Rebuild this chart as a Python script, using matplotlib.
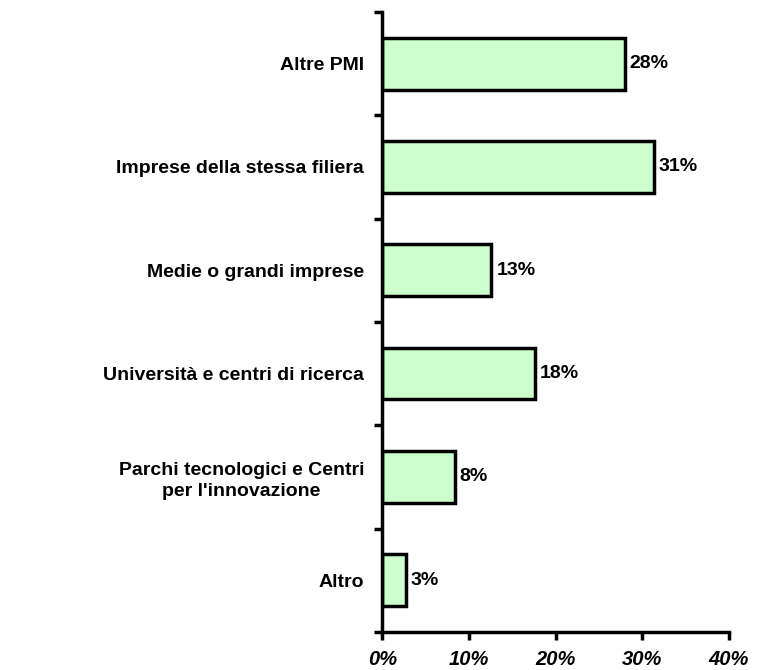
import matplotlib.pyplot as plt
from matplotlib.ticker import FuncFormatter

plt.rcParams['font.family'] = ['Liberation Sans', 'DejaVu Sans']

# data (top to bottom as in the chart)
categories = ["Altre PMI", "Imprese della stessa filiera", "Medie o grandi imprese",
              "Università e centri di ricerca",
              "Parchi tecnologici e Centri\nper l'innovazione", "Altro"]
values = [28.0, 31.3, 12.6, 17.6, 8.4, 2.7]
xticks = [0, 10, 20, 30, 40]

fig = plt.figure(figsize=(7.57, 6.70), dpi=100)
ax = fig.add_axes([0.505, 0.057, 0.458, 0.925])

n = len(categories)
pos = [n - 1 - i for i in range(n)]
ax.barh(pos, values, height=0.5, color='#ccffcc', edgecolor='black', linewidth=2.5)

for p, v in zip(pos, values):
    ax.text(v + 0.55, p, f"{v:.0f}%", va='center', ha='left',
            fontsize=14, fontweight='bold')

ax.set_xlim(0, 40)
ax.set_ylim(-0.5, n - 0.5)
ax.set_xticks(xticks)
ax.xaxis.set_major_formatter(FuncFormatter(lambda x, _: f"{x:.0f}%"))
for lbl in ax.get_xticklabels():
    lbl.set_fontstyle('italic')
    lbl.set_fontweight('bold')
    lbl.set_fontsize(14.5)

# y ticks at category boundaries, labels at centers
ax.set_yticks([k - 0.5 for k in range(n + 1)])
ax.set_yticklabels([])
ax.set_yticks(pos, minor=True)
ax.set_yticklabels(categories, minor=True, fontsize=14, fontweight='bold',
                   ha='right', multialignment='center', linespacing=1.3)
ax.tick_params(axis='y', which='minor', length=0, pad=13)
ax.tick_params(axis='y', which='major', length=6, width=2.5, direction='out')
ax.tick_params(axis='x', length=6, width=2.5, direction='out', pad=7)

for s in ['top', 'right']:
    ax.spines[s].set_visible(False)
for s in ['left', 'bottom']:
    ax.spines[s].set_linewidth(2.5)

fig.savefig("out.png", dpi=100)
